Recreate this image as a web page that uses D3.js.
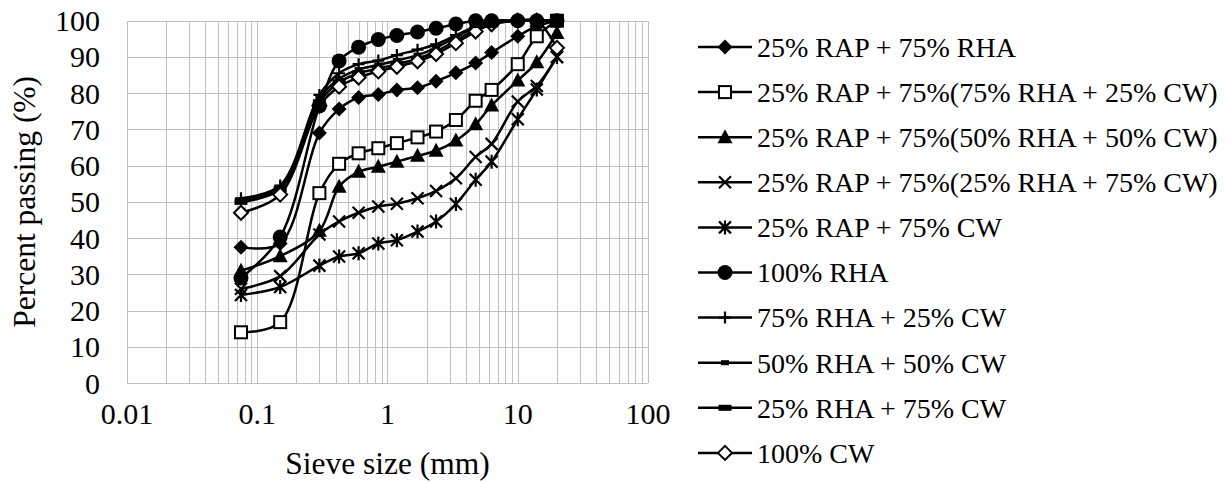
<!DOCTYPE html>
<html>
<head>
  <meta charset="UTF-8">
  <script src="https://d3js.org/d3.v7.min.js"></script>
  <style>
    body, svg, text { font-family: serif; }
  </style>
</head>
<body style="margin:0">
  <svg id="chart" width="1229" height="483"></svg>
  <script>
    // sieve sizes (mm)
    const sieveSizes = [0.075, 0.15, 0.3, 0.425, 0.6, 0.85, 1.18, 1.7, 2.36, 3.35, 4.75, 6.3, 10, 14, 20];

    // percent passing per mix
    const rap25Rha75 = [37.5, 38.5, 69, 75.6, 78.8, 79.6, 80.9, 81.5, 83.3, 85.6, 88.3, 91.2, 95.7, 98.5, 100];
    const rap25Rha75Cw25 = [14, 16.8, 52.4, 60.5, 63.4, 64.8, 66.2, 67.8, 69.4, 72.6, 77.9, 80.9, 88, 95.7, 100];
    const rap25Rha50Cw50 = [31, 35, 42, 54.2, 58.3, 59.7, 61.1, 62.7, 64.1, 66.9, 71.4, 76.6, 83.5, 88.5, 96.6];
    const rap25Rha25Cw75 = [26, 29.5, 41, 44.6, 47, 48.7, 49.5, 51, 53, 56.5, 62.4, 66, 77.7, 82, 90];
    const rap25Cw75 = [24.3, 26.5, 32.4, 34.9, 35.8, 38.5, 39.4, 41.8, 44.6, 49.4, 56.1, 61.1, 72.8, 81, 90];
    const rha100 = [29, 40.3, 76.5, 88.9, 92.7, 94.8, 95.9, 96.9, 97.9, 99.1, 100, 100, 100, 100, 100];
    const rha75Cw25 = [51, 54.5, 79.5, 85.5, 88, 89, 90.5, 92, 93.5, 96, 98.5, 100, 100, 100, 100];
    const rha50Cw50 = [50.5, 54, 78.5, 84, 86.5, 87.8, 89, 90.5, 92.5, 95.5, 98, 99.5, 100, 100, 100];
    const rha25Cw75 = [50, 53.5, 77.5, 83, 85.5, 86.8, 88, 89.5, 91.5, 94.5, 97.5, 99, 100, 100, 100];
    const cw100 = [47, 52, 76.5, 81.8, 84.3, 86, 87.3, 88.8, 90.8, 93.8, 97, 99, 100, 100, 92.5];

    const seriesNames = [
      "25% RAP + 75% RHA",
      "25% RAP + 75%(75% RHA + 25% CW)",
      "25% RAP + 75%(50% RHA + 50% CW)",
      "25% RAP + 75%(25% RHA + 75% CW)",
      "25% RAP + 75% CW",
      "100% RHA",
      "75% RHA + 25% CW",
      "50% RHA + 50% CW",
      "25% RHA + 75% CW",
      "100% CW"
    ];
    const seriesValues = [rap25Rha75, rap25Rha75Cw25, rap25Rha50Cw50, rap25Rha25Cw75, rap25Cw75,
                          rha100, rha75Cw25, rha50Cw50, rha25Cw75, cw100];
    const markerTypes = ["diamond", "square", "triangle", "x", "star", "circle", "plus", "dash", "bar", "odiamond"];
    // the 100% RHA circles sit on top of the others
    const drawOrder = [0, 1, 2, 3, 4, 6, 7, 8, 9, 5];

    const xTicks = [0.01, 0.1, 1, 10, 100];
    const yTicks = [0, 10, 20, 30, 40, 50, 60, 70, 80, 90, 100];

    const svg = d3.select("#chart");
    const plot = { left: 127, right: 648, top: 20.7, bottom: 383 };

    const x = d3.scaleLog().domain([0.01, 100]).range([plot.left, plot.right]);
    const y = d3.scaleLinear().domain([0, 100]).range([plot.bottom, plot.top]);

    // grid: minor log lines + every 10 %
    const minor = [];
    for (let e = -2; e < 2; e++) {
      for (let k = 1; k <= 9; k++) minor.push(k * Math.pow(10, e));
    }
    minor.push(100);

    const grid = svg.append("g").attr("stroke", "#c0c0c0").attr("stroke-width", 1).attr("shape-rendering", "crispEdges");
    grid.selectAll(".vx").data(minor).enter().append("line")
      .attr("x1", d => Math.round(x(d)) + 0.5).attr("x2", d => Math.round(x(d)) + 0.5)
      .attr("y1", plot.top).attr("y2", plot.bottom);
    grid.selectAll(".hy").data(yTicks).enter().append("line")
      .attr("x1", plot.left).attr("x2", plot.right)
      .attr("y1", d => Math.round(y(d)) + 0.5).attr("y2", d => Math.round(y(d)) + 0.5);

    // every label goes through here so the font is set on the element itself
    function label(sel) {
      return sel.style("font-family", "serif").attr("fill", "#000");
    }

    // tick labels
    label(svg.append("g").selectAll("text").data(yTicks).enter().append("text")
      .attr("x", 100).attr("y", d => y(d)).attr("dy", "0.35em")
      .attr("text-anchor", "end").attr("font-size", 30).text(d => d));
    label(svg.append("g").selectAll("text").data(xTicks).enter().append("text")
      .attr("x", d => x(d)).attr("y", 413).attr("dy", "0.35em")
      .attr("text-anchor", "middle").attr("font-size", 30).text(d => d));

    label(svg.append("text").attr("x", (plot.left + plot.right) / 2).attr("y", 474)
      .attr("text-anchor", "middle").attr("font-size", 31.5).text("Sieve size (mm)"));
    label(svg.append("text").attr("transform", `translate(35, ${(plot.top + plot.bottom) / 2}) rotate(-90)`)
      .attr("text-anchor", "middle").attr("font-size", 31.5).text("Percent passing (%)"));

    // marker drawing
    function drawMarker(g, type, cx, cy) {
      const m = g.append("g").attr("transform", `translate(${cx},${cy})`);
      if (type === "diamond") {
        m.append("path").attr("d", "M0,-7.5L7.5,0L0,7.5L-7.5,0Z").attr("fill", "#000");
      } else if (type === "odiamond") {
        m.append("path").attr("d", "M0,-7L7,0L0,7L-7,0Z").attr("fill", "#fff").attr("stroke", "#000").attr("stroke-width", 2);
      } else if (type === "square") {
        m.append("rect").attr("x", -6).attr("y", -6).attr("width", 12).attr("height", 12)
          .attr("fill", "#fff").attr("stroke", "#000").attr("stroke-width", 2);
      } else if (type === "triangle") {
        m.append("path").attr("d", "M0,-8L7.5,6L-7.5,6Z").attr("fill", "#000");
      } else if (type === "circle") {
        m.append("circle").attr("r", 7.5).attr("fill", "#000");
      } else if (type === "x") {
        m.append("path").attr("d", "M-6,-6L6,6M-6,6L6,-6").attr("stroke", "#000").attr("stroke-width", 2.2);
      } else if (type === "star") {
        m.append("path").attr("d", "M-6,-6L6,6M-6,6L6,-6M0,-7L0,7").attr("stroke", "#000").attr("stroke-width", 2.2);
      } else if (type === "plus") {
        m.append("path").attr("d", "M0,-6L0,6M-6,0L6,0").attr("stroke", "#000").attr("stroke-width", 2.2);
      } else if (type === "dash") {
        m.append("rect").attr("x", -4).attr("y", -2.5).attr("width", 8).attr("height", 5).attr("fill", "#000");
      } else if (type === "bar") {
        m.append("rect").attr("x", -6.5).attr("y", -3).attr("width", 13).attr("height", 6).attr("fill", "#000");
      }
    }

    const line = d3.line()
      .x(d => x(d.size))
      .y(d => y(d.value))
      .curve(d3.curveCatmullRom.alpha(0.5));

    drawOrder.forEach(i => {
      const vals = seriesValues[i];
      const pts = sieveSizes.map((s, j) => ({ size: s, value: vals[j] }));
      const g = svg.append("g");
      g.append("path").datum(pts).attr("d", line)
        .attr("fill", "none").attr("stroke", "#000").attr("stroke-width", 2.5);
      pts.forEach(p => drawMarker(g, markerTypes[i], x(p.size), y(p.value)));
    });

    // legend
    const legend = svg.append("g");
    seriesNames.forEach((name, i) => {
      const ly = 47 + i * 45.1;
      const row = legend.append("g");
      row.append("line").attr("x1", 698).attr("x2", 752).attr("y1", ly).attr("y2", ly)
        .attr("stroke", "#000").attr("stroke-width", 2.5);
      drawMarker(row, markerTypes[i], 725, ly);
      label(row.append("text").attr("x", 757).attr("y", ly).attr("dy", "0.35em")
        .attr("font-size", 28).text(name));
    });
  </script>
</body>
</html>
